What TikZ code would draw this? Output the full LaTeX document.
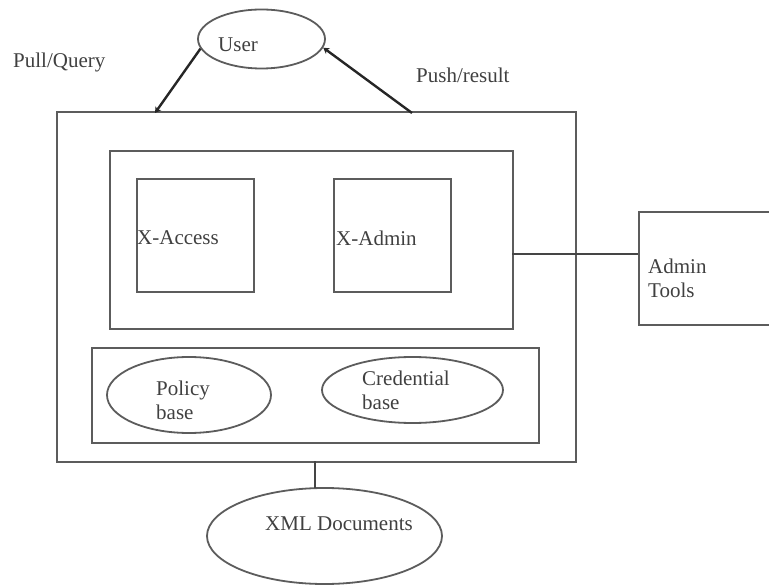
\documentclass[tikz,border=0pt]{standalone}
\usepackage{fontspec}
\setmainfont{Liberation Serif}
\usetikzlibrary{shapes.geometric,arrows.meta}
\definecolor{ink}{gray}{0.36}
\definecolor{txt}{gray}{0.25}
\tikzset{
  box/.style={draw=ink,line width=2pt,rectangle,inner sep=0pt,anchor=north west},
  oval/.style={draw=ink,line width=1.8pt,ellipse,inner sep=0pt},
  lbl/.style={inner sep=0pt,text=txt,font=\fontsize{21}{24}\selectfont},
  conn/.style={draw=ink!75!black,line width=1.6pt},
  arr/.style={draw=black!85,line width=2.4pt,-{Stealth[length=6pt,width=7pt]}}
}
\begin{document}
\begin{tikzpicture}[x=1pt,y=-1pt]
\useasboundingbox (0,0) rectangle (769,588);
\node[box,minimum width=519pt,minimum height=349pt] (outer) at (55.5,111.5) {};
\node[box,minimum width=403pt,minimum height=178pt] (inner) at (108.5,150.5) {};
\node[box,minimum width=117pt,minimum height=113pt] (xaccess) at (135.5,178.5) {};
\node[box,minimum width=117pt,minimum height=113pt] (xadmin) at (332.5,178.5) {};
\node[box,minimum width=447pt,minimum height=95pt] (base) at (90.5,346.5) {};
\node[box,minimum width=140pt,minimum height=113pt] (admin) at (637.5,211.5) {};
\node[oval,minimum width=127pt,minimum height=59pt] (user) at (261.5,39) {};
\node[oval,minimum width=164pt,minimum height=76pt] (policy) at (189,395) {};
\node[oval,minimum width=181pt,minimum height=66pt] (cred) at (412.5,390) {};
\node[oval,minimum width=235pt,minimum height=96pt] (xml) at (324.5,536) {};
\coordinate (pullend) at (155,113);
\coordinate (pushstart) at (412,113);
\coordinate (adminl) at (638,254);
\coordinate (innerr) at (512,254);
\coordinate (outb) at (315,461);
\coordinate (xmlt) at (315,488);
\draw[arr] (user.189) -- (pullend);
\draw[arr] (pushstart) -- (user.352);
\draw[conn] (innerr) -- (adminl);
\draw[conn] (outb) -- (xmlt);
\node[lbl,anchor=west] (tuser) at (218,45) {User};
\node[lbl,anchor=west] (tpull) at (13,62) {Pull/Query};
\node[lbl,anchor=west] (tpush) at (416,75) {Push/result};
\node[lbl,anchor=west] (tacc) at (137,238) {X-Access};
\node[lbl,anchor=west] (tadm) at (336,238) {X-Admin};
\node[lbl,anchor=west,align=left] (ttools) at (648,278) {Admin\\Tools};
\node[lbl,anchor=west,align=left] (tpol) at (156,400) {Policy\\base};
\node[lbl,anchor=west,align=left] (tcred) at (362,390) {Credential\\base};
\node[lbl,anchor=west] (txml) at (265,524) {XML Documents};
\end{tikzpicture}
\end{document}
